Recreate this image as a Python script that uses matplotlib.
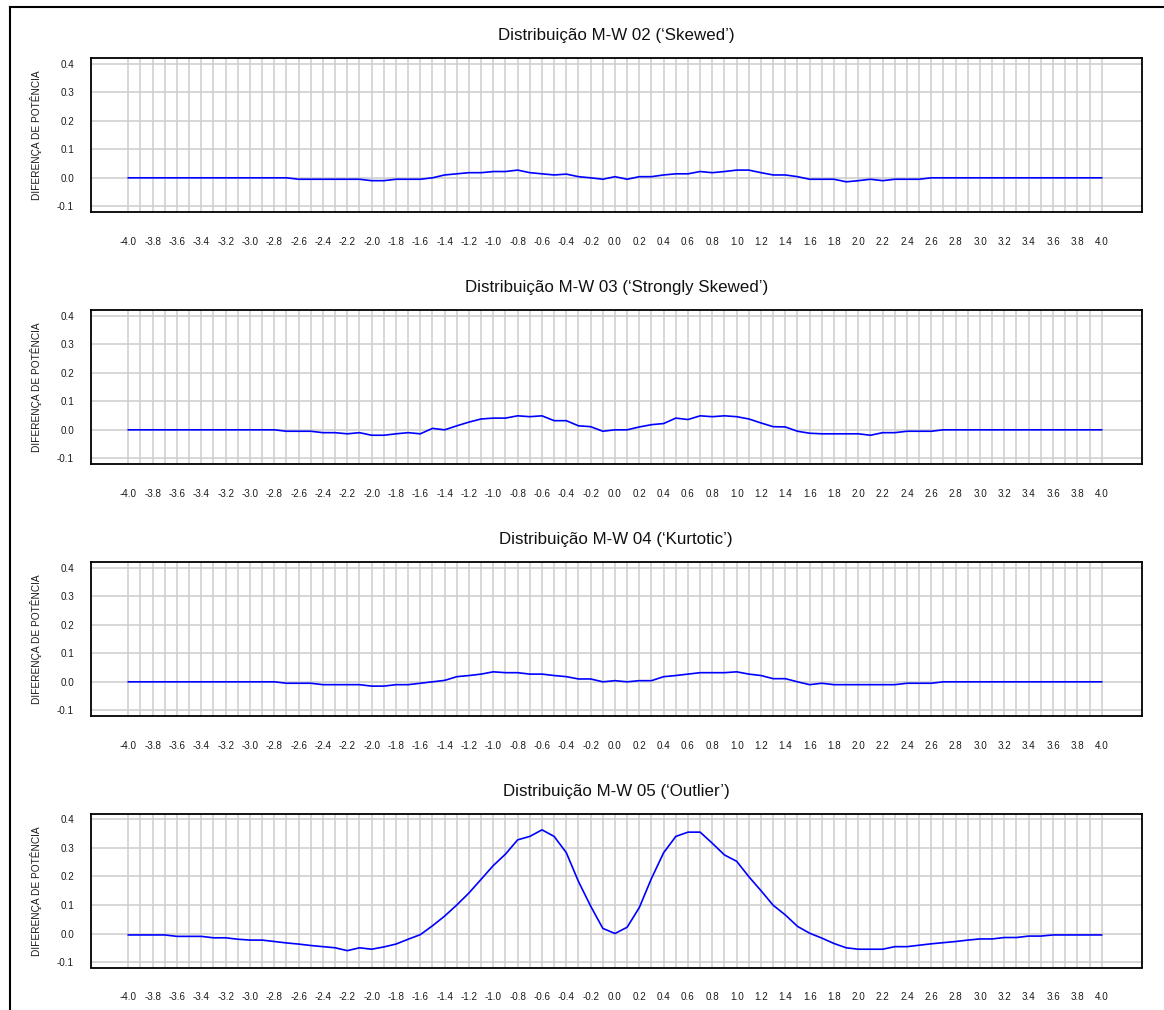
import numpy as np
import matplotlib
matplotlib.use("Agg")
import matplotlib.pyplot as plt
from matplotlib.lines import Line2D

plt.rcParams["font.family"] = ["Liberation Sans", "DejaVu Sans"]

# Effect size grid (-4.0 .. 4.0, step 0.1)
x_values = np.round(np.arange(-40, 41) / 10.0, 1)
x_tick_values = np.round(np.arange(-20, 21) / 5.0, 1)
y_tick_values = [-0.1, 0.0, 0.1, 0.2, 0.3, 0.4]

titles = [
    "Distribuição M-W 02 (‘Skewed’)",
    "Distribuição M-W 03 (‘Strongly Skewed’)",
    "Distribuição M-W 04 (‘Kurtotic’)",
    "Distribuição M-W 05 (‘Outlier’)",
]
y_label = "DIFERENÇA DE POTÊNCIA"

power_diff_skewed = (
    [0.0] * 14
    + [-0.005] * 6
    + [-0.01, -0.01, -0.005, -0.005, -0.005]
    + [0.0, 0.01, 0.014, 0.018, 0.018, 0.022, 0.022, 0.027, 0.018, 0.014,
       0.01, 0.013, 0.004, 0.0, -0.005, 0.004]
    + [-0.005, 0.004, 0.004, 0.01, 0.014, 0.014, 0.022, 0.018, 0.022, 0.027,
       0.027, 0.018, 0.01, 0.01, 0.004, -0.005, -0.005, -0.005, -0.014, -0.01,
       -0.005, -0.01, -0.005, -0.005, -0.005]
    + [0.0] * 15
)

power_diff_strongly_skewed = (
    [0.0] * 13
    + [-0.005, -0.005, -0.005, -0.01, -0.01, -0.014, -0.01, -0.019, -0.019,
       -0.014, -0.01, -0.014, 0.005, 0.0, 0.014, 0.027, 0.038, 0.041, 0.041,
       0.049, 0.046, 0.049, 0.032, 0.032, 0.014, 0.011, -0.005]
    + [0.0]
    + [0.0, 0.01, 0.018, 0.022, 0.041, 0.036, 0.049, 0.046, 0.049, 0.046,
       0.038, 0.024, 0.011, 0.01, -0.005, -0.012, -0.014, -0.014, -0.014,
       -0.014, -0.019, -0.01, -0.01, -0.005, -0.005, -0.005]
    + [0.0] * 14
)

power_diff_kurtotic = (
    [0.0] * 13
    + [-0.005, -0.005, -0.005, -0.01, -0.01, -0.01, -0.01, -0.015, -0.015,
       -0.01, -0.01, -0.005, 0.0, 0.005, 0.018, 0.022, 0.027, 0.035, 0.032,
       0.032, 0.027, 0.027, 0.022, 0.018, 0.01, 0.01, 0.0]
    + [0.004]
    + [0.0, 0.004, 0.004, 0.018, 0.022, 0.027, 0.032, 0.032, 0.032, 0.035,
       0.027, 0.022, 0.011, 0.011, 0.0, -0.01, -0.005, -0.01, -0.01, -0.01,
       -0.01, -0.01, -0.01, -0.005, -0.005, -0.005]
    + [0.0] * 14
)

power_diff_outlier = [
    -0.005, -0.005, -0.005, -0.005, -0.01, -0.01, -0.01, -0.015, -0.015, -0.02,
    -0.023, -0.023, -0.028, -0.033, -0.037, -0.042, -0.046, -0.05, -0.06, -0.05,
    -0.055, -0.047, -0.037, -0.02, -0.004, 0.027, 0.061, 0.1, 0.142, 0.19,
    0.238, 0.278, 0.328, 0.34, 0.363, 0.34, 0.283, 0.182, 0.096, 0.018,
    0.0,
    0.022, 0.091, 0.193, 0.283, 0.34, 0.355, 0.355, 0.316, 0.275, 0.253,
    0.199, 0.15, 0.099, 0.065, 0.025, 0.001, -0.016, -0.035, -0.05, -0.055,
    -0.055, -0.055, -0.046, -0.046, -0.041, -0.036, -0.032, -0.028, -0.023, -0.019,
    -0.019, -0.014, -0.014, -0.009, -0.009, -0.005, -0.005, -0.005, -0.005, -0.005,
]

series = [power_diff_skewed, power_diff_strongly_skewed,
          power_diff_kurtotic, power_diff_outlier]

W, H = 1164, 1010
fig = plt.figure(figsize=(W / 100, H / 100), dpi=100)

# Outer frame (top and left edges)
fig.add_artist(Line2D([10 / W, 10 / W], [1 - 7 / H, 0], transform=fig.transFigure,
                      color="black", lw=1.5))
fig.add_artist(Line2D([10 / W, 1], [1 - 7 / H, 1 - 7 / H], transform=fig.transFigure,
                      color="black", lw=1.5))

ax_left, ax_right = 90.7, 1141.7
ax_h = 153.5
tops = [58.3, 310.3, 562.3, 814.0]
grid_color = "#cfcfcf"

for title, values, top in zip(titles, series, tops):
    ax = fig.add_axes([ax_left / W, 1 - (top + ax_h) / H,
                       (ax_right - ax_left) / W, ax_h / H])
    ax.set_xlim(-4.309, 4.329)
    ax.set_ylim(-0.119, 0.4185)

    # Grid: every 0.1 on x, every 0.1 on y
    for xv in x_values:
        ax.axvline(xv, color=grid_color, lw=1.15, zorder=0)
    for yv in y_tick_values:
        ax.axhline(yv, color=grid_color, lw=1.15, zorder=0)

    ax.plot(x_values, values, color="#0000ff", lw=1.2, zorder=3)

    ax.set_xticks(x_tick_values)
    ax.set_xticklabels([f"{v:.1f}" for v in x_tick_values], fontsize=7.1,
                       color="#1a1a1a")
    ax.set_yticks(y_tick_values)
    ax.set_yticklabels([f"{v:.1f}" for v in y_tick_values], fontsize=7.1,
                       color="#1a1a1a")
    ax.tick_params(axis="x", length=0, pad=18)
    ax.tick_params(axis="y", length=0, pad=12)

    for sp in ax.spines.values():
        sp.set_color("black")
        sp.set_linewidth(1.3)

    ax.set_ylabel(y_label, fontsize=7.3, va="center", color="#1a1a1a")
    ax.yaxis.set_label_coords((35.7 - ax_left) / (ax_right - ax_left), 0.5)

    ax.text(0.5, 1 + 22.5 / ax_h, title, transform=ax.transAxes,
            ha="center", va="center", fontsize=12.2, color="#111111")

fig.savefig("out.png", dpi=100)
